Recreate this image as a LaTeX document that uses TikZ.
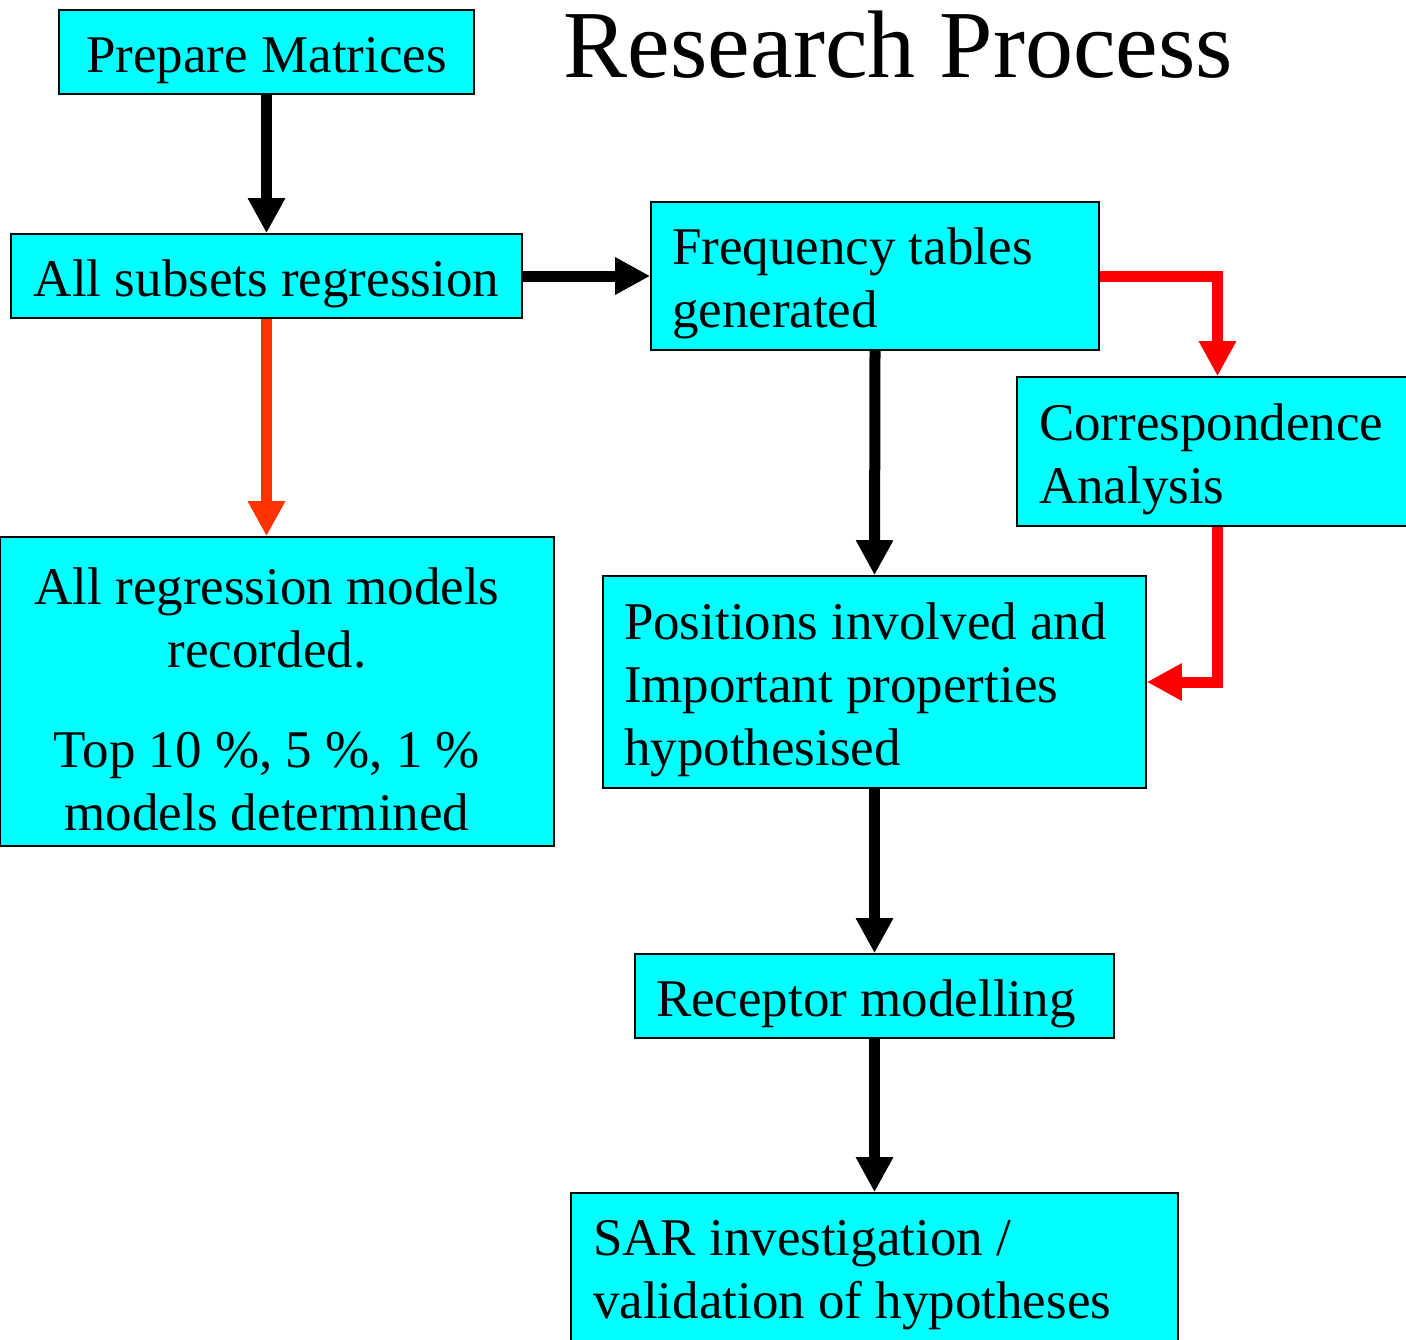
\documentclass[tikz,border=0pt]{standalone}
\usepackage{fontspec}
\setmainfont{Liberation Serif}
\usetikzlibrary{arrows.meta}

\definecolor{boxcyan}{RGB}{0,255,255}
\definecolor{flowred}{RGB}{255,0,0}
\definecolor{floworange}{RGB}{255,51,0}

\tikzset{every picture/.style={line width=0.75pt},
  procbox/.style={draw=black, line width=0.8pt, fill=boxcyan, inner ysep=0pt,
    font=\fontsize{26.5pt}{31.5pt}\selectfont,
    execute at begin node=\rule{0pt}{26pt}},
  flowarrow/.style={line width=5.5pt, -{Triangle[length=17.5pt,width=17.5pt]}},
}

\begin{document}
\begin{tikzpicture}[x=0.5pt,y=0.5pt,yscale=-1,xscale=1]
\useasboundingbox (0,0) rectangle (1406,1339);

% Title
\node (title) at (898.5,77) [anchor=base, inner sep=0pt, font=\fontsize{48pt}{57.6pt}\selectfont] {Research Process};

% Process boxes
\node (prep) at (266.5,52) [procbox, minimum width=207.5pt, minimum height=42pt] {Prepare Matrices};
\node (subsets) at (266.5,276) [procbox, minimum width=255.5pt, minimum height=42pt] {All subsets regression};
\node (freq) at (875,276) [procbox, inner xsep=10.5pt, text width=203pt, align=flush left, minimum height=74pt] {Frequency tables\\generated};
\node (corresp) at (1217.5,451.5) [procbox, inner xsep=11pt, text width=178.5pt, align=flush left, minimum height=74.5pt] {Correspondence\\Analysis};
% text sits a little left of the box centre
\node (models) at (277,691.5) [procbox, inner xsep=5pt, minimum height=154.5pt] {\parbox[t]{257pt}{\centering All regression models\\recorded.\\[18.5pt]Top 10 \%, 5 \%, 1 \%\\models determined}\hspace*{10pt}};
\node (positions) at (874.5,682) [procbox, inner xsep=10.5pt, text width=250.5pt, align=flush left, minimum height=106pt] {Positions involved and\\Important properties\\hypothesised};
\node (receptor) at (874.5,996) [procbox, inner xsep=10.5pt, text width=218.5pt, align=flush left, minimum height=42pt] {Receptor modelling};
\node (sar) at (874.5,1267) [procbox, inner xsep=11pt, text width=281.5pt, align=flush left, minimum height=74pt] {SAR investigation /\\validation of hypotheses};

% Black arrows
\draw [flowarrow] (prep.south) -- (subsets.north);
\draw [flowarrow] (subsets.east) -- (freq.west);
\draw [flowarrow] (freq.south) -- (positions.north);
\draw [flowarrow] (positions.south) -- (receptor.north);
\draw [flowarrow] (receptor.south) -- (sar.north);

% Red arrows
\draw [flowarrow, color=floworange] (subsets.south) -- (subsets.south |- models.north);
\draw [flowarrow, color=flowred] (freq.east) -| (corresp.north);
\draw [flowarrow, color=flowred] (corresp.south) |- (positions.east);

\end{tikzpicture}
\end{document}
